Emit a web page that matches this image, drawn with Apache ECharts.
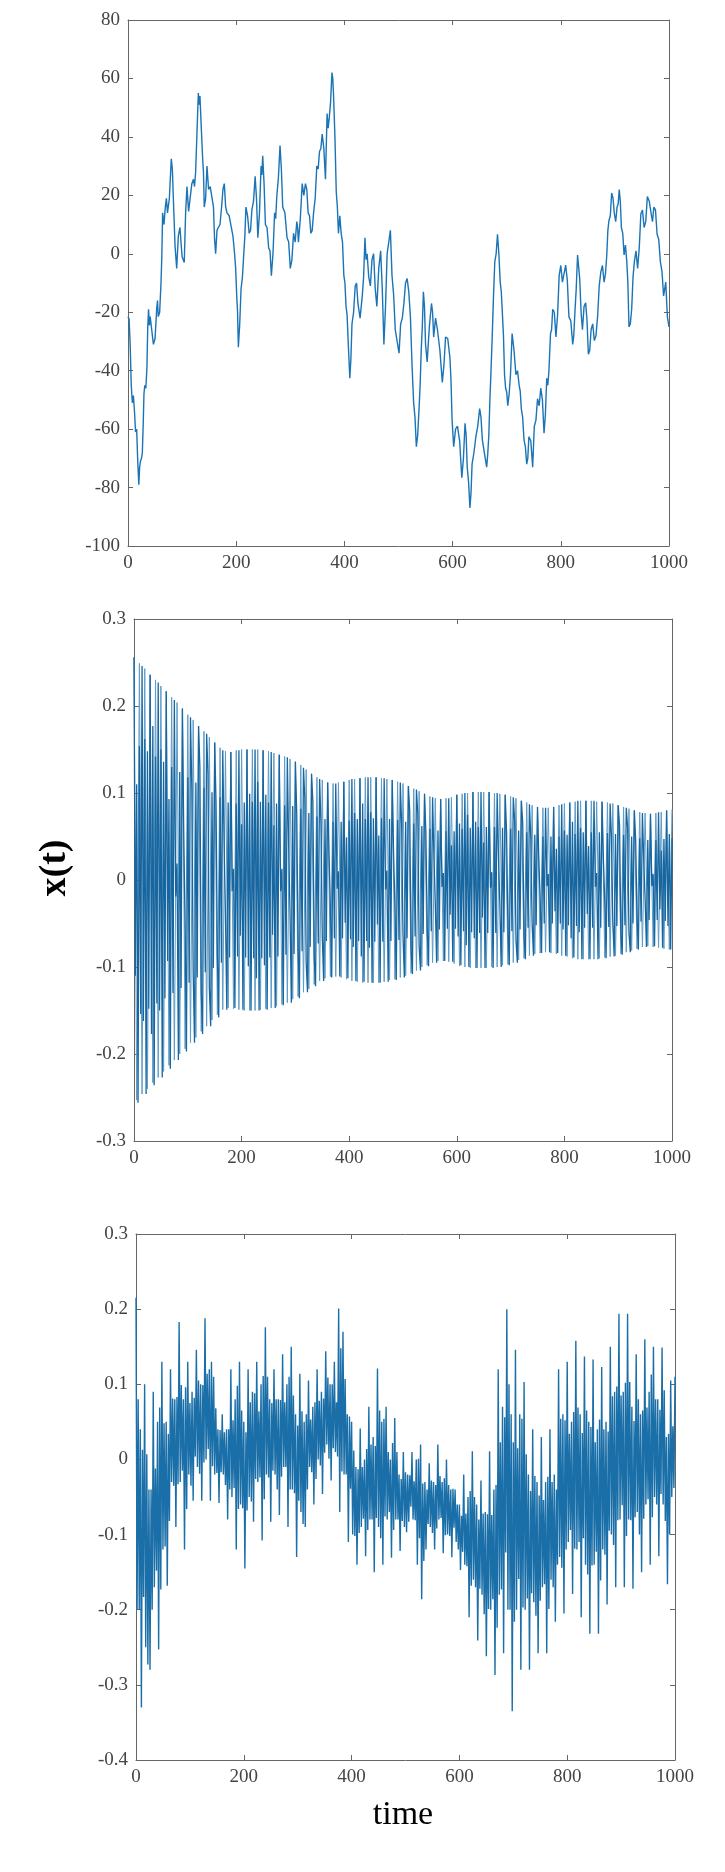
<!DOCTYPE html>
<html>
<head>
<meta charset="utf-8">
<title>x(t)</title>
<script src="https://cdn.jsdelivr.net/npm/echarts@6/dist/echarts.min.js"></script>
<style>
  html, body { margin: 0; padding: 0; background: #ffffff; }
  #chart { width: 725px; height: 1872px; }
</style>
</head>
<body>
<div id="chart"></div>
<script>
// time axis, shared by the three panels
const timeRange = [0, 1000, 200]
// y ranges [min, max, step]
const walkRange = [-100, 80, 20]
const decayRange = [-0.3, 0.3, 0.1]
const driftRange = [-0.4, 0.3, 0.1]

// top panel: [time, value]
const walkTrace = [
  [0,-21.5],[2,-22.3],[4,-31],[6,-45],[8,-51],[10,-48.5],[12,-54],[14,-61],[16,-60],[18,-71],
  [20,-79],[21.5,-73],[23,-71],[25,-70],[26.5,-68],[28,-59],[29.5,-48],[31,-45],[33,-46],[35,-39],
  [36.5,-25],[38,-19],[39.5,-24.5],[41,-21.5],[44,-22],[47,-31],[50,-29],[53,-19],[54.5,-16],[56,-21.5],
  [58.5,-20],[61,-10],[62.5,-1],[64,14],[66.5,10],[69,16],[71,19],[73,14],[76.5,19],[80,32.5],
  [82,29],[84,18],[87,2.5],[90,-5],[93,6],[96,9],[100,-1],[104,-3],[106.5,14],[109,23],
  [112,14.5],[115,14],[118,24],[121,25.5],[123,23],[125,28],[127.5,41.5],[130,55],[131.5,51],[133,54],
  [135.5,43],[138,32.5],[139.5,28],[141,16],[143.5,19],[146,30],[149,22],[152,23],[155,23],[158,16],
  [160,5],[162,0],[164.5,8],[167,9],[170,10],[173,16],[175.5,22],[178,24],[180.5,16],[183,14],
  [187,13],[191,9],[194,6],[197,0],[199,-5],[201,-14.5],[202.5,-20],[204,-32],[206.5,-24],[209,-12],
  [211.5,-8],[214,0],[216,6],[218,16],[221,13],[224,7],[226.5,8],[229,15],[232,18],[235,26.5],
  [237.5,19],[240,5.5],[243,14],[246,30],[247.5,27],[249,33.5],[251.5,24],[254,10],[257,9],[260,2],
  [262.5,1],[265,-7.5],[268,0],[271,14],[273,12],[275,19.5],[278,26],[281,37],[283.5,29],[286,16],
  [290,14],[294,5.5],[297,4],[300,-5],[303,-2],[306,7],[309,4],[312,11],[313.5,9],[315,4],
  [318.5,12],[322,24],[325,20],[328,24],[330.5,22],[333,14],[335.5,13],[338,7],[340.5,8],[343,14],
  [346,19],[349,30],[351.5,29],[354,35],[356.5,36],[359,41],[362,36],[365,25.5],[368,48],[370,43],
  [372,46.5],[374.5,52],[377,62],[378.5,60],[380,54],[382.5,40],[385,21],[387,16],[389,7],[391.5,13],
  [394,7],[396.5,4],[399,-7.5],[401,-10],[403,-18],[405,-21],[407,-30],[410,-42.6],[412,-36],[414,-24],
  [417,-20],[420,-11],[422.5,-10],[425,-17],[429,-22],[433,-14.5],[435.5,-8],[438,5.5],[440,-2],[442,0],
  [445,-8],[448,-11],[451,-2],[454,0],[457,-12],[460,-18],[463.5,-5],[467,1],[470,-12],[473,-31],
  [476,-18],[479,0],[482,0],[485,8],[488,-7.5],[491,-14],[494,-26],[497.5,-26],[501,-34],[504,-24],
  [507,-22],[510,-17],[513,-10],[516,-8.5],[519,-13],[522,-21.5],[525,-38],[528,-51],[530.5,-56],[533,-66],
  [535.5,-62],[538,-53],[540,-45],[542,-33],[544,-25],[546,-13],[548,-18],[550,-31],[553,-37],[557,-25],
  [561,-17],[563,-20],[565,-28.5],[568.5,-22],[572,-26],[576.5,-33],[581,-44],[584,-38],[587,-28.5],[591,-29],
  [595,-35.5],[597,-43],[599,-56.7],[602,-66],[605.5,-60],[609,-59],[613,-64],[617,-76.6],[620,-70],[623,-58],
  [625,-62],[627,-73],[629.5,-78],[632,-87],[634,-82],[636,-72],[639.5,-68],[643,-62.6],[646.5,-59],[650,-53],
  [652.5,-56],[655,-63.7],[658,-64],[661,-70.8],[663,-73],[665,-68.4],[667,-62],[669,-49.6],[671,-40],[673,-29.7],
  [675.5,-15],[678,-2.7],[680.5,0],[683,6.7],[685.5,0],[688,-9.7],[690,-13],[692,-20.3],[694,-28],[696,-41.4],
  [698,-46],[700,-47.3],[702,-52],[704.5,-48],[707,-41.4],[710,-27.3],[713.5,-33],[717,-41.4],[720,-40],[723,-45],
  [725,-47],[727,-53],[729.5,-56],[732,-63.7],[734.5,-66],[737,-72],[739,-70],[741,-62.6],[744.5,-64],[748,-73],
  [751,-59],[754,-57],[757,-49.6],[760,-52],[763,-46],[766,-50],[769,-61.4],[771.5,-55],[774,-42.6],[776,-45],
  [778,-40.3],[781,-27.3],[783,-26],[785,-19],[788,-20],[791,-28.5],[794,-21],[797,-7.4],[800,-4],[803,-9.7],
  [806,-10],[809,-3.9],[812,-9],[815,-21.5],[818.5,-23],[822,-31],[824,-28],[826,-20.3],[828.5,-12],[831,-0.4],
  [833,-1],[835,-8.6],[837.5,-20],[840,-26],[843,-18],[846,-16.8],[848.5,-23],[851,-34.4],[853.5,-33],[856,-26],
  [859,-24],[862,-29.7],[865,-28],[868,-21.5],[871,-11],[874,-6.2],[877,-4],[880,-9.7],[882.5,-7],[885,-0.4],
  [887,8],[889,11.4],[891.5,13],[894,20.8],[896.5,19],[899,13.7],[901.5,11],[904,16],[906,17],[908,22],
  [910,18],[912,9],[914.5,7],[917,-0.4],[919.5,3],[922,-2.7],[924,-10],[926,-25],[928.5,-24],[931,-19],
  [933.5,-8],[936,-2.7],[939,1],[942,-5],[945,2],[948,13.7],[951,15],[954,9],[957,11],[960,19.6],
  [963.5,18],[967,13.7],[969.5,11],[972,16],[975,15],[978,6.7],[981,5],[984,-2.7],[987,-6],[990,-14.4],
  [992,-15],[994,-9.7],[997,-21.5],[1000,-25]
]

// middle panel, outer swings (light lines), one value every 5 time units
const decayOuterStep = 5
const decayOuter = [
  .256,-.253,.249,-.246,.243,-.240,.236,-.233,.230,-.227,
  .223,-.220,.217,-.213,.210,-.207,.204,-.200,.197,-.194,
  .190,-.187,.184,-.181,.177,-.174,.171,-.168,.164,-.161,
  .158,-.155,.152,-.149,.148,-.147,.147,-.148,.149,-.149,
  .150,-.150,.150,-.150,.150,-.150,.150,-.149,.149,-.148,
  .148,-.147,.146,-.145,.144,-.143,.142,-.141,.139,-.137,
  .136,-.134,.132,-.129,.127,-.125,.122,-.120,.118,-.116,
  .115,-.113,.112,-.111,.111,-.111,.112,-.112,.113,-.114,
  .115,-.116,.116,-.117,.117,-.118,.118,-.118,.118,-.118,
  .118,-.118,.117,-.117,.116,-.115,.115,-.114,.113,-.112,
  .111,-.110,.108,-.107,.105,-.104,.102,-.100,.099,-.098,
  .096,-.095,.094,-.093,.093,-.093,.094,-.094,.095,-.096,
  .098,-.099,.099,-.100,.100,-.101,.101,-.101,.101,-.101,
  .101,-.101,.101,-.100,.100,-.100,.099,-.098,.098,-.097,
  .096,-.095,.094,-.092,.091,-.090,.089,-.087,.086,-.085,
  .084,-.084,.083,-.083,.083,-.084,.084,-.085,.086,-.087,
  .088,-.088,.089,-.090,.090,-.091,.091,-.091,.091,-.091,
  .091,-.091,.090,-.090,.090,-.089,.089,-.088,.088,-.087,
  .086,-.085,.084,-.083,.082,-.081,.080,-.079,.078,-.077,
  .077,-.076,.076,-.077,.077,-.078,.078,-.079,.080,-.080,
  .081
]

// middle panel, inner swings (dark lines), one value every 2.5 time units
const decayStep = 2.5
const decayWave = [
  .256,-.110,.110,-.256,.154,-.154, .246,-.162,.162,-.246,.148,-.148, .236,-.177,.177,-.236,.142,-.142,
  .227,-.150,.150,-.227,.136,-.136, .217,-.093,.093,-.217,.130,-.130, .207,-.019,.019,-.207,.124,-.124,
  .197,.053,-.053,-.197,.118,-.118, .187,.105,-.105,-.187,.112,-.112, .177,.129,-.129,-.177,.106,-.106,
  .168,.123,-.123,-.168,.101,-.101, .158,.088,-.088,-.158,.095,-.095, .149,.040,-.040,-.149,.089,-.089,
  .147,-.013,.013,-.147,.088,-.088, .149,-.064,.064,-.149,.089,-.089, .150,-.099,.099,-.150,.090,-.090,
  .150,-.113,.113,-.150,.090,-.090, .149,-.098,.098,-.149,.089,-.089, .147,-.063,.063,-.147,.088,-.088,
  .144,-.013,.013,-.144,.086,-.086, .141,.038,-.038,-.141,.085,-.085, .136,.076,-.076,-.136,.082,-.082,
  .129,.094,-.094,-.129,.077,-.077, .122,.089,-.089,-.122,.073,-.073, .116,.065,-.065,-.116,.070,-.070,
  .112,.030,-.030,-.112,.067,-.067, .111,-.010,.010,-.111,.067,-.067, .113,-.049,.049,-.113,.068,-.068,
  .116,-.077,.077,-.116,.070,-.070, .117,-.088,.088,-.117,.070,-.070, .118,-.078,.078,-.118,.071,-.071,
  .118,-.051,.051,-.118,.071,-.071, .117,-.011,.011,-.117,.070,-.070, .115,.031,-.031,-.115,.069,-.069,
  .112,.063,-.063,-.112,.067,-.067, .108,.079,-.079,-.108,.065,-.065, .104,.076,-.076,-.104,.062,-.062,
  .099,.055,-.055,-.099,.059,-.059, .095,.026,-.026,-.095,.057,-.057, .093,-.008,.008,-.093,.056,-.056,
  .094,-.040,.040,-.094,.056,-.056, .098,-.065,.065,-.098,.059,-.059, .100,-.075,.075,-.100,.060,-.060,
  .101,-.067,.067,-.101,.061,-.061, .101,-.043,.043,-.101,.061,-.061, .101,-.009,.009,-.101,.061,-.061,
  .100,.027,-.027,-.100,.060,-.060, .098,.055,-.055,-.098,.059,-.059, .095,.069,-.069,-.095,.057,-.057,
  .091,.066,-.066,-.091,.055,-.055, .087,.049,-.049,-.087,.052,-.052, .084,.023,-.023,-.084,.050,-.050,
  .083,-.007,.007,-.083,.050,-.050, .084,-.036,.036,-.084,.050,-.050, .087,-.057,.057,-.087,.052,-.052,
  .089,-.067,.067,-.089,.053,-.053, .091,-.060,.060,-.091,.055,-.055, .091,-.039,.039,-.091,.055,-.055,
  .091,-.008,.008,-.091,.055,-.055, .090,.024,-.024,-.090,.054,-.054, .088,.049,-.049,-.088,.053,-.053,
  .086,.063,-.063,-.086,.052,-.052, .083,.061,-.061,-.083,.050,-.050, .080,.045,-.045,-.080,.048,-.048,
  .077,.021,-.021,-.077,.046,-.046, .076,-.007,.007,-.076,.046,-.046, .078,-.034,.034,-.078,.047,-.047,
  .080,-.053,.053,-.080,.048
]

// bottom panel, one value every 2 time units
const driftStep = 2
const driftWave = [
  .215,-.20,.08,-.20, .04,-.33,.013,-.183, .10,-.25,.007,-.273, -.04,-.28,-.04,-.20,
  .09,-.17,-.012,-.148, .05,-.253,.069,-.173, .13,-.12,.048,-.116, .05,-.168,.034,-.082,
  .12,-.03,.081,-.035, .08,-.09,.083,-.033, .183,-.03,.099,-.015, .08,-.12,.096,-.066,
  .13,-.02,.075,-.035, .09,-.055,.082,.004, .146,-.01,.105,-.019, .10,-.055,.099,-.004,
  .188,0,.114,.014, .12,-.055,.13,-.009, .11,-.02,.068,-.018, .04,-.058,.039,-.017,
  .06,-.02,.036,-.034, .04,-.08,.04,-.04, .12,-.05,.052,-.038, .08,-.12,.098,-.066,
  .13,-.06,.065,-.065, .05,-.145,.036,-.068, .12,-.05,.076,-.056, .09,-.083,.088,-.026,
  .13,-.03,.064,-.024, .10,-.108,.111,-.053, .176,-.02,.11,-.024, .08,-.083,.075,-.015,
  .12,-.02,.08,-.04, .08,-.074,.079,-.023, .14,-.01,.076,-.01, .10,-.09,.11,-.04,
  .15,-.04,.085,-.045, .06,-.13,.045,-.055, .114,-.07,.064,-.086, .05,-.09,.06,-.04,
  .105,-.01,.053,-.017, .07,-.06,.076,-.026, .12,0,.078,-.008, .09,-.046,.081,.009,
  .144,.02,.109,.001, .10,-.028,.10,.015, .13,.01,.076,.004, .201,-.07,.148,-.016,
  .17,-.02,.107,-.02, .06,-.11,.057,-.039, .05,-.10,.012,-.102, -.01,-.14,-.013,-.098,
  .041,-.09,-.01,-.079, 0,-.129,.014,-.094, .07,-.08,.02,-.08, .03,-.15,.018,-.078,
  .121,-.09,.065,-.105, .05,-.14,.054,-.076, .07,-.08,.01,-.07, 0,-.131,.022,-.094,
  .055,-.08,.01,-.08, -.02,-.122,-.026,-.082, .01,-.09,-.017,-.097, -.02,-.083,-.021,-.063,
  .01,-.08,-.029,-.081, 0,-.14,.001,-.105, .02,-.186,-.032,-.135, -.03,-.12,-.04,-.086,
  -.005,-.09,-.028,-.098, -.03,-.12,-.034,-.092, .02,-.08,-.022,-.078, -.03,-.125,-.025,-.101,
  0,-.10,-.034,-.102, -.04,-.13,-.039,-.091, -.04,-.11,-.06,-.12, -.06,-.147,-.075,-.123,
  -.02,-.14,-.072,-.142, -.05,-.21,-.042,-.168, .011,-.16,-.05,-.17, -.06,-.241,-.08,-.172,
  -.028,-.18,-.072,-.206, -.07,-.262,-.073,-.199, .011,-.20,-.074,-.186, -.04,-.287,-.034,-.224,
  .12,-.18,.023,-.173, .07,-.258,.056,-.124, .20,-.20,.10,-.20, .06,-.335,.023,-.216,
  .146,-.20,.015,-.159, .06,-.28,.054,-.197, .103,-.20,.007,-.185, -.02,-.28,-.042,-.178,
  .04,-.19,-.022,-.208, -.03,-.258,-.048,-.188, .03,-.17,-.054,-.166, -.03,-.258,-.023,-.199,
  .04,-.16,-.03,-.17, -.02,-.216,-.04,-.14, .12,-.13,.054,-.144, .06,-.205,.052,-.12,
  .13,-.11,.034,-.094, .05,-.179,.063,-.119, .158,-.12,.069,-.11, .06,-.21,.035,-.105,
  .137,-.14,.065,-.153, .05,-.232,.043,-.141, .133,-.14,.023,-.123, .04,-.232,.053,-.161,
  .123,-.12,.04,-.127, .05,-.193,.037,-.095, .15,-.10,.084,-.114, .09,-.17,.097,-.081,
  .194,-.08,.085,-.061, .09,-.17,.102,-.102, .194,-.08,.103,-.081, .07,-.172,.051,-.077,
  .14,-.07,.08,-.10, .06,-.15,.065,-.079, .16,-.06,.069,-.053, .09,-.14,.113,-.077,
  .15,-.05,.08,-.06, .08,-.129,.066,-.046, .149,-.06,.092,-.082, .03,-.166,.034,-.10,
  .105,-.05,.044,-.038, .11
]

const grids = [
  { left: 128, top: 20, width: 541, height: 526 },
  { left: 134, top: 619, width: 538, height: 522 },
  { left: 136, top: 1234, width: 539, height: 526 }
]

const axisColor = '#666666'
const tickFont = { fontFamily: 'Liberation Serif', fontSize: 19, color: '#444444' }

function withTime(values, step) {
  return values.map((v, i) => [i * step, v])
}

function axisBase(range, gridIndex, position, showLabel) {
  return {
    type: 'value',
    gridIndex: gridIndex,
    position: position,
    min: range[0],
    max: range[1],
    interval: range[2],
    axisLine: { show: true, onZero: false, lineStyle: { color: axisColor, width: 1 } },
    axisTick: { show: true, inside: true, length: 5, lineStyle: { color: axisColor } },
    axisLabel: Object.assign({ show: showLabel, margin: 8, formatter: (v) => String(v) }, tickFont),
    splitLine: { show: false }
  }
}

const xAxes = []
const yAxes = []
const yRanges = [walkRange, decayRange, driftRange]
grids.forEach((g, i) => {
  xAxes.push(axisBase(timeRange, i, 'bottom', true))
  xAxes.push(axisBase(timeRange, i, 'top', false))
  yAxes.push(axisBase(yRanges[i], i, 'left', true))
  yAxes.push(axisBase(yRanges[i], i, 'right', false))
})

function lineSeries(idx, data, width, color) {
  return {
    type: 'line',
    xAxisIndex: idx * 2,
    yAxisIndex: idx * 2,
    data: data,
    showSymbol: false,
    symbol: 'none',
    smooth: false,
    lineStyle: { color: color, width: width },
    emphasis: { disabled: true }
  }
}

const chart = echarts.init(document.getElementById('chart'), null, { renderer: 'canvas' })
chart.setOption({
  backgroundColor: '#ffffff',
  animation: false,
  grid: grids,
  xAxis: xAxes,
  yAxis: yAxes,
  series: [
    lineSeries(0, walkTrace, 1.4, '#1a74b6'),
    lineSeries(1, withTime(decayOuter, decayOuterStep), 1, '#5f9cc8'),
    lineSeries(1, withTime(decayWave, decayStep), 1.3, '#17669f'),
    lineSeries(2, withTime(driftWave, driftStep), 1.4, '#1b6fa8')
  ],
  graphic: [
    {
      type: 'text',
      x: 55,
      y: 868,
      rotation: Math.PI / 2,
      style: {
        text: 'x(t)',
        font: 'bold 38px "Liberation Serif"',
        fill: '#000000',
        textAlign: 'center',
        textVerticalAlign: 'middle'
      }
    },
    {
      type: 'text',
      x: 403,
      y: 1815,
      style: {
        text: 'time',
        font: '34px "Liberation Serif"',
        fill: '#000000',
        textAlign: 'center',
        textVerticalAlign: 'middle'
      }
    }
  ]
})
</script>
</body>
</html>
